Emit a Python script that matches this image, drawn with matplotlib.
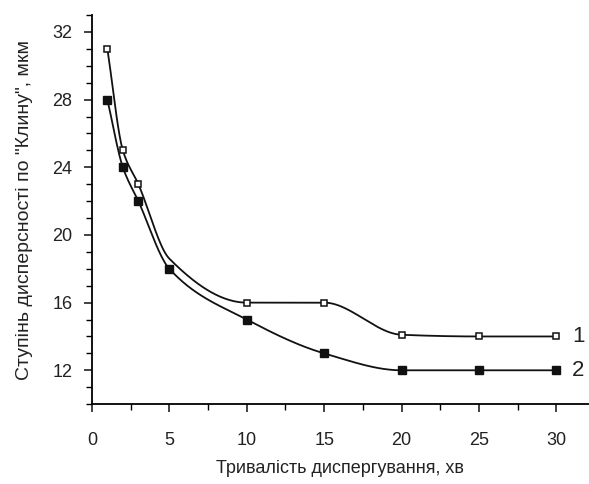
import numpy as np
import matplotlib.pyplot as plt
from matplotlib.ticker import MultipleLocator

plt.rcParams['font.family'] = ['Liberation Sans', 'DejaVu Sans']

# curve 1 (open squares) - no marker was drawn at t=5
t1 = [1, 2, 3, 5, 10, 15, 20, 25, 30]
d1 = [31, 25, 23, 18.6, 16, 16, 14.1, 14, 14]
show1 = [0, 1, 2, 4, 5, 6, 7, 8]
# curve 2 (filled squares)
t2 = [1, 2, 3, 5, 10, 15, 20, 25, 30]
d2 = [28, 24, 22, 18, 15, 13, 12, 12, 12]

xlabel = 'Тривалість диспергування, хв'
ylabel = 'Ступінь дисперсності по "Клину", мкм'


def pchip(x, y, n=300):
    """monotone cubic (Fritsch-Carlson) through (x, y) on a fine grid"""
    x = np.asarray(x, float)
    y = np.asarray(y, float)
    h = np.diff(x)
    delta = np.diff(y) / h
    m = np.zeros_like(y)
    for i in range(1, len(x) - 1):
        if delta[i - 1] * delta[i] > 0:
            w1 = 2 * h[i] + h[i - 1]
            w2 = h[i] + 2 * h[i - 1]
            m[i] = (w1 + w2) / (w1 / delta[i - 1] + w2 / delta[i])
    m[0] = delta[0]
    m[-1] = delta[-1]
    xs = np.linspace(x[0], x[-1], n)
    j = np.clip(np.searchsorted(x, xs) - 1, 0, len(x) - 2)
    s = (xs - x[j]) / h[j]
    h00 = 2 * s ** 3 - 3 * s ** 2 + 1
    h10 = s ** 3 - 2 * s ** 2 + s
    h01 = -2 * s ** 3 + 3 * s ** 2
    h11 = s ** 3 - s ** 2
    ys = h00 * y[j] + h10 * h[j] * m[j] + h01 * y[j + 1] + h11 * h[j] * m[j + 1]
    return xs, ys


fig = plt.figure(figsize=(5.89, 4.84), dpi=100)
ax = fig.add_axes([0.156, 0.165, 0.844, 0.804])

for t, d in [(t1, d1), (t2, d2)]:
    xs, ys = pchip(t, d)
    ax.plot(xs, ys, color='#111', lw=1.3)
sel = np.array(show1)
ax.plot(np.array(t1)[sel], np.array(d1)[sel], 's', ms=5, mfc='white',
        mec='#111', mew=1.1, ls='none')
ax.plot(t2, d2, 's', ms=5.5, mfc='#111', mec='#111', ls='none')

ax.text(t1[-1] + 1.0, d1[-1], '1', fontsize=16, va='center', ha='left', color='#222')
ax.text(t2[-1] + 1.0, d2[-1], '2', fontsize=16, va='center', ha='left', color='#222')

ax.set_xlim(0, 32.1)
ax.set_ylim(10, 33)
ax.xaxis.set_major_locator(MultipleLocator(5))
ax.xaxis.set_minor_locator(MultipleLocator(2.5))
ax.yaxis.set_major_locator(MultipleLocator(4))
ax.yaxis.set_minor_locator(MultipleLocator(1))
ax.set_yticks([12, 16, 20, 24, 28, 32])
ax.spines['top'].set_visible(False)
ax.spines['right'].set_visible(False)
for s in ['left', 'bottom']:
    ax.spines[s].set_linewidth(1.3)
ax.tick_params(which='major', length=6, width=1.2, labelsize=13, colors='#222')
ax.tick_params(axis='x', which='major', pad=14)
ax.tick_params(axis='y', which='major', pad=8)
ax.tick_params(which='minor', length=4, width=1.0)
ax.set_xlabel(xlabel, fontsize=13, color='#222', labelpad=8)
ax.set_ylabel(ylabel, fontsize=14, color='#222', labelpad=14)

fig.savefig('out.png', dpi=100)
